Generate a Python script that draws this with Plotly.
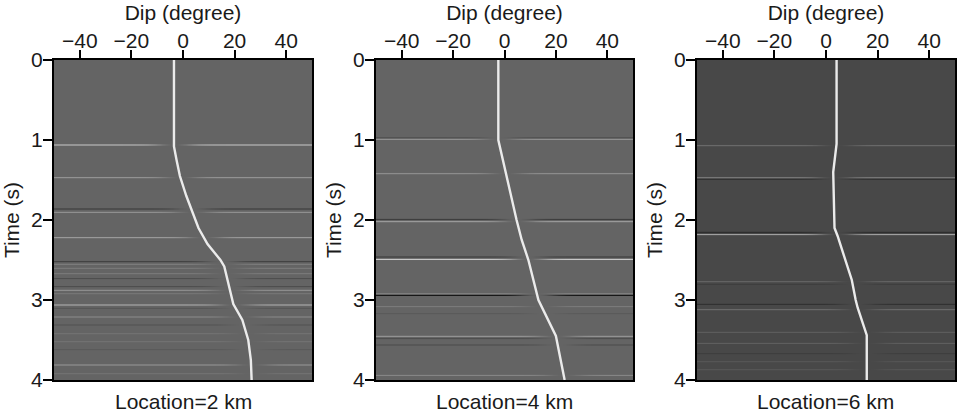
import numpy as np
import plotly.graph_objects as go

# ---------------- data ----------------
dip_ticks = [-40, -20, 0, 20, 40]
time_ticks = [0, 1, 2, 3, 4]
location_labels = ["Location=2 km", "Location=4 km", "Location=6 km"]

# picked dip curve (time in s, dip in degree)
p1_curve_t = [0.0, 1.08, 1.25, 1.45, 1.7, 1.9, 2.1, 2.3, 2.5, 2.58, 2.9, 3.05, 3.25, 3.5, 3.75, 4.0]
p1_curve_dip = [-3.5, -3.5, -2.5, -1.2, 1.3, 3.6, 6.0, 9.5, 14.5, 16.0, 18.3, 19.5, 23.0, 25.3, 26.3, 26.6]
p2_curve_t = [0.0, 1.0, 2.0, 2.25, 2.5, 3.0, 3.45, 4.0]
p2_curve_dip = [-2.4, -2.4, 4.7, 6.7, 9.3, 13.2, 20.0, 23.4]
p3_curve_t = [0.0, 1.05, 1.4, 2.1, 2.2, 2.75, 3.0, 3.1, 3.44, 4.0]
p3_curve_dip = [4.1, 4.1, 2.8, 3.3, 4.5, 10.0, 11.5, 12.3, 15.8, 15.8]

# reflection events in the dip-scan panels (time in s, relative amplitude)
p1_refl_t = [1.06, 1.47, 1.86, 1.90, 2.22, 2.52, 2.55, 2.60, 2.67, 2.73, 2.83, 2.875, 2.92,
             3.06, 3.10, 3.21, 3.31, 3.42, 3.52, 3.62, 3.81, 3.92]
p1_refl_amp = [0.75, 0.7, -0.35, 0.65, 0.8, -0.5, 0.35, 0.3, 0.3, -0.2, -0.2, 0.6, 0.25,
               0.6, -0.2, 0.3, -0.15, 0.2, 0.2, -0.15, 0.4, 0.2]
p2_refl_t = [0.97, 0.99, 1.42, 1.99, 2.02, 2.46, 2.49, 2.92, 2.94, 3.08, 3.17, 3.45, 3.48, 3.56, 3.94]
p2_refl_amp = [-0.25, 0.4, 0.6, -0.35, 0.8, -0.35, 0.9, 0.4, -0.7, 0.2, -0.15, 0.7, -0.2, -0.2, 0.3]
p3_refl_t = [1.07, 1.47, 1.49, 2.15, 2.18, 2.77, 2.80, 3.05, 3.12, 3.40, 3.54, 3.67, 3.77, 3.87]
p3_refl_amp = [0.5, 0.7, -0.2, -0.4, 0.8, 0.4, -0.15, -0.35, 0.5, 0.3, 0.2, -0.15, 0.2, 0.2]

# background grey level of each panel
panel_base = [100, 100, 72]

panels = [
    (p1_curve_t, p1_curve_dip, p1_refl_t, p1_refl_amp),
    (p2_curve_t, p2_curve_dip, p2_refl_t, p2_refl_amp),
    (p3_curve_t, p3_curve_dip, p3_refl_t, p3_refl_amp),
]

# ---------------- figure ----------------
W, H = 957, 416
x_domains = [[54 / W, 312 / W], [376 / W, 633 / W], [697 / W, 955 / W]]
y_domain = [(H - 380) / H, (H - 60) / H]
FONT = "Liberation Sans, Arial, sans-serif"
TXT = "#1a1a1a"
FS = 21

dip_grid = np.linspace(-50, 50, 101)
t_grid = np.linspace(0, 4, 801)

fig = go.Figure()
for i, (ct, cd, rt, ra) in enumerate(panels):
    sfx = "" if i == 0 else str(i + 1)
    curve_on_grid = np.interp(t_grid, ct, cd)
    z = np.full((len(t_grid), len(dip_grid)), float(panel_base[i]))
    D = dip_grid[None, :] - curve_on_grid[:, None]
    taper = 1.0 - np.exp(-(D / 7.5) ** 2)
    for t0, a in zip(rt, ra):
        g = np.exp(-((t_grid - t0) / 0.007) ** 2)
        z += 110.0 * a * g[:, None] * taper
    z = np.clip(np.round(z), 0, 255).astype(int)
    fig.add_trace(go.Heatmap(
        x=dip_grid, y=t_grid, z=z, zmin=0, zmax=255,
        colorscale=[[0, "black"], [1, "white"]], showscale=False,
        zsmooth="best", hoverinfo="skip",
        xaxis="x" + sfx, yaxis="y" + sfx,
    ))
    fig.add_trace(go.Scatter(
        x=cd, y=ct, mode="lines",
        line=dict(color="#ebebeb", width=2.4),
        hoverinfo="skip", showlegend=False,
        xaxis="x" + sfx, yaxis="y" + sfx,
    ))
    fig.update_layout(**{
        "xaxis" + sfx: dict(
            domain=x_domains[i], range=[-50, 50], side="top",
            anchor="y" + sfx, automargin=False,
            tickvals=dip_ticks, ticks="outside", ticklen=8, tickwidth=1.5,
            tickcolor="black", showline=True, mirror=True, linecolor="black",
            linewidth=2, showgrid=False, zeroline=False, ticklabelstandoff=-6,
            tickfont=dict(family=FONT, size=FS, color=TXT),
            title=dict(text="Dip (degree)", standoff=2,
                       font=dict(family=FONT, size=FS, color=TXT)),
        ),
        "yaxis" + sfx: dict(
            domain=y_domain, range=[4, 0], anchor="x" + sfx, automargin=False,
            tickvals=time_ticks, ticks="outside", ticklen=9, tickwidth=1.5,
            tickcolor="black", showline=True, mirror=True, linecolor="black",
            linewidth=2, showgrid=False, zeroline=False, ticklabelstandoff=-4,
            tickfont=dict(family=FONT, size=FS, color=TXT),
            title=dict(text="Time (s)", standoff=6,
                       font=dict(family=FONT, size=FS, color=TXT)),
        ),
    })
    fig.add_annotation(
        x=(x_domains[i][0] + x_domains[i][1]) / 2, y=(H - 401) / H,
        xref="paper", yref="paper", text=location_labels[i], showarrow=False,
        font=dict(family=FONT, size=FS, color=TXT), xanchor="center", yanchor="middle",
    )

fig.update_layout(
    width=W, height=H, margin=dict(l=0, r=0, t=0, b=0),
    paper_bgcolor="white", plot_bgcolor="white", showlegend=False,
)
fig.write_html("out.html")
